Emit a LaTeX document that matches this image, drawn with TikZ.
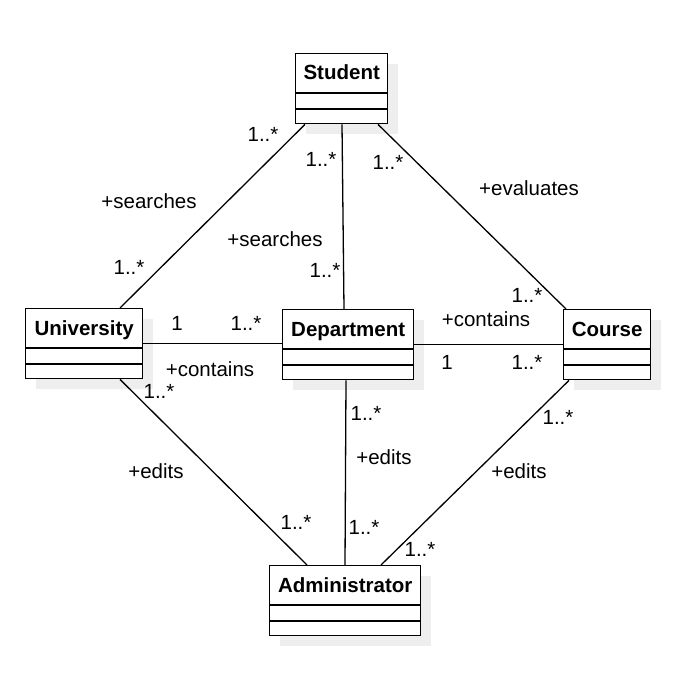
\documentclass[tikz,border=0pt]{standalone}
\usepackage{fontspec}
\setmainfont{Liberation Sans}
\usetikzlibrary{calc}
\definecolor{shadowc}{HTML}{EEEEEE}
\tikzset{
  classbox/.style={draw, line width=1.4pt, rectangle, inner sep=0pt, minimum height=70pt, anchor=north west},
  conn/.style={line width=1.3pt},
  lbl/.style={inner sep=0pt, anchor=base, font=\fontsize{20.5}{24}\selectfont},
  title/.style={inner sep=0pt, anchor=base, font=\fontsize{20.5}{24}\selectfont\bfseries},
}
\newcommand\umlclass[5]{%
  \fill[shadowc] (#2+11,#3+11) rectangle ++(#4,70);
  \node[classbox, fill=white, minimum width=#4pt] (#1) at (#2,#3) {};
  \node[title] (#1-t) at ($(#1.north)+(0,27)$) {#5};
  \draw[line width=1.4pt] ($(#1.north west)+(0,40)$) -- ($(#1.north east)+(0,40)$);
  \draw[line width=1.4pt] ($(#1.north west)+(0,56)$) -- ($(#1.north east)+(0,56)$);
}
\begin{document}
\begin{tikzpicture}[x=1pt,y=-1pt]
\useasboundingbox[fill=white] (0,0) rectangle (691,695);
\umlclass{stu}{295}{53}{92}{Student}
\umlclass{uni}{25}{308}{117}{University}
\umlclass{dep}{282}{309}{131}{Department}
\umlclass{crs}{563}{309}{87}{Course}
\umlclass{adm}{269}{565}{151}{Administrator}

% connectors
\draw[conn] ($(stu.south west)+(10,0)$) -- ($(uni.north west)+(95,0)$);
\draw[conn] ($(stu.south west)+(47,0)$) -- ($(dep.north west)+(62,0)$);
\draw[conn] ($(stu.south west)+(83,0)$) -- ($(crs.north west)+(3,0)$);
\draw[conn] (uni.east) -- (uni.east -| dep.west);
\draw[conn] (dep.east) -- (dep.east -| crs.west);
\draw[conn] ($(uni.south west)+(95,0)$) -- ($(adm.north west)+(38,0)$);
\draw[conn] ($(dep.south west)+(64,0)$) -- ($(adm.north west)+(76,0)$);
\draw[conn] ($(crs.south west)+(6,0)$) -- ($(adm.north west)+(112,0)$);

% labels
\node[lbl] (l1) at (263,142) {1..*};
\node[lbl] (l2) at (149,208) {+searches};
\node[lbl] (l3) at (129,274) {1..*};
\node[lbl] (l4) at (321,166) {1..*};
\node[lbl] (l5) at (275,246) {+searches};
\node[lbl] (l6) at (325,277) {1..*};
\node[lbl] (l7) at (388,169) {1..*};
\node[lbl] (l8) at (529,195) {+evaluates};
\node[lbl] (l9) at (527,302) {1..*};
\node[lbl] (l10) at (177,330) {1};
\node[lbl] (l11) at (246,330) {1..*};
\node[lbl] (l12) at (210,376) {+contains};
\node[lbl] (l13) at (159,398) {1..*};
\node[lbl] (l14) at (486,326) {+contains};
\node[lbl] (l15) at (447,369) {1};
\node[lbl] (l16) at (527,369) {1..*};
\node[lbl] (l17) at (366,420) {1..*};
\node[lbl] (l18) at (384,464) {+edits};
\node[lbl] (l19) at (558,424) {1..*};
\node[lbl] (l20) at (156,478) {+edits};
\node[lbl] (l21) at (519,478) {+edits};
\node[lbl] (l22) at (296,529) {1..*};
\node[lbl] (l23) at (364,534) {1..*};
\node[lbl] (l24) at (420,556) {1..*};
\end{tikzpicture}
\end{document}
